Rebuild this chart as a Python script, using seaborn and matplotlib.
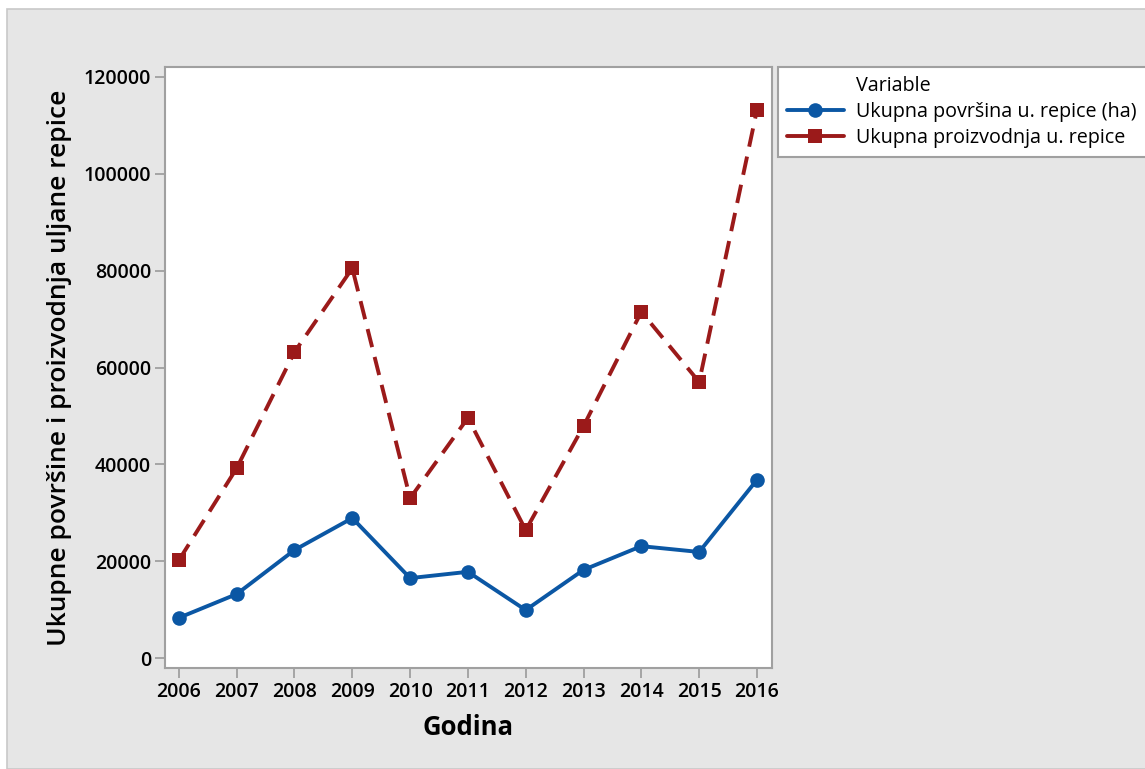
import matplotlib
matplotlib.use("Agg")
import matplotlib.pyplot as plt
from matplotlib.patches import Rectangle
from matplotlib.lines import Line2D
import seaborn as sns
import pandas as pd

years = [2006, 2007, 2008, 2009, 2010, 2011, 2012, 2013, 2014, 2015, 2016]
povrsina = [8300, 13200, 22300, 28900, 16500, 17800, 9900, 18200, 23100, 21900, 36800]
proizvodnja = [20200, 39200, 63200, 80500, 33000, 49600, 26400, 47900, 71500, 57000, 113200]
series_names = ["Ukupna površina u. repice (ha)", "Ukupna proizvodnja u. repice"]
y_ticks = [0, 20000, 40000, 60000, 80000, 100000, 120000]

sns.set_theme(style="white")
plt.rcParams["font.family"] = ["Open Sans", "DejaVu Sans"]
plt.rcParams["text.color"] = "black"
plt.rcParams["axes.labelcolor"] = "black"
plt.rcParams["xtick.labelcolor"] = "black"
plt.rcParams["ytick.labelcolor"] = "black"

blue = "#0b57a4"
red = "#9b1a1a"

df = pd.DataFrame({
    "Godina": years * 2,
    "value": povrsina + proizvodnja,
    "Variable": [series_names[0]] * len(years) + [series_names[1]] * len(years),
})

fig = plt.figure(figsize=(11.45, 7.69), dpi=100)
fig.patch.set_facecolor("white")
fig.patches.append(Rectangle((7 / 1145, 0), 1, (769 - 9) / 769, transform=fig.transFigure,
                             facecolor="#e6e6e6", edgecolor="#c8c8c8", linewidth=1.2, zorder=-10))

ax = fig.add_axes([165 / 1145, 1 - 668 / 769, (772 - 165) / 1145, (668 - 67) / 769])
ax.set_facecolor("white")

lw = 2.8
ms = 10.5
sns.lineplot(data=df[df["Variable"] == series_names[0]], x="Godina", y="value", ax=ax,
             color=blue, linewidth=lw, marker="o", markersize=ms, markeredgewidth=0,
             legend=False)
sns.lineplot(data=df[df["Variable"] == series_names[1]], x="Godina", y="value", ax=ax,
             color=red, linewidth=lw, marker="s", markersize=ms, markeredgewidth=0,
             legend=False)
ax.lines[1].set_dashes([4.8, 2.6])

ax.set_xlim(2005.76, 2016.26)
ax.set_ylim(-2065, 122065)
ax.set_xticks(years)
ax.set_xticklabels([str(y) for y in years])
ax.set_yticks(y_ticks)
ax.set_yticklabels([str(v) for v in y_ticks])
ax.tick_params(axis="both", which="major", direction="out", length=7, width=1.3,
               color="#a0a0a0", labelsize=14, pad=3, bottom=True, left=True,
               labelcolor="black")
for lab in ax.get_xticklabels() + ax.get_yticklabels():
    lab.set_fontweight("semibold")
for sp in ax.spines.values():
    sp.set_color("#a0a0a0")
    sp.set_linewidth(1.5)

ax.set_xlabel("Godina", fontsize=18.5, fontweight="bold", labelpad=9, color="black")
ax.set_ylabel("Ukupne površine i proizvodnja uljane repice", fontsize=19,
              fontweight="semibold", labelpad=8, color="black")

handles = [
    Line2D([], [], color="none", marker=None, linestyle="none"),
    Line2D([], [], color=blue, linewidth=lw, marker="o", markersize=ms, markeredgewidth=0),
    Line2D([], [], color=red, linewidth=lw, marker="s", markersize=ms, markeredgewidth=0),
]
labels = ["Variable"] + series_names
leg = fig.legend(handles, labels, loc="upper left",
                 bbox_to_anchor=(778 / 1145, 1 - 67 / 769, 0.4, 0.0),
                 mode="expand", frameon=True, fancybox=False, fontsize=14.2,
                 handlelength=2.9, handletextpad=0.6, borderpad=0.45, labelspacing=0.3,
                 borderaxespad=0)
for t in leg.get_texts():
    t.set_color("black")
leg.get_frame().set_edgecolor("#a0a0a0")
leg.get_frame().set_linewidth(1.5)
leg.get_frame().set_facecolor("white")
leg.get_frame().set_alpha(1)

fig.savefig("out.png", dpi=100)
